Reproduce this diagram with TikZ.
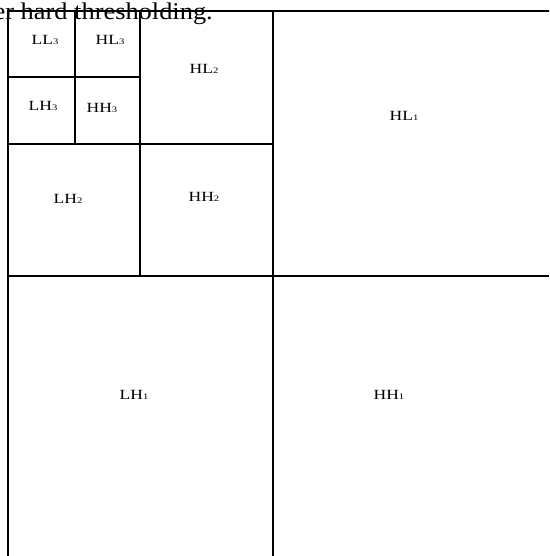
\documentclass[tikz,border=0pt]{standalone}
\usepackage{fontspec}
\setmainfont{Liberation Serif}
\newcommand\sbx[1]{\raisebox{-0.6pt}{\fontsize{8.5}{8.5}\selectfont #1}}
\newcommand\lbl[1]{\scalebox{1.25}[1]{#1}}
\tikzset{
  grid line/.style={line width=2.8pt, line cap=rect},
  lab/.style={font=\fontsize{14}{14}\selectfont, inner sep=0pt},
  caption/.style={font=\fontsize{24}{24}\selectfont, inner sep=0pt, anchor=base east}
}
\begin{document}
\begin{tikzpicture}[x=1pt,y=-1pt]
\useasboundingbox (0,0) rectangle (549,556);
\clip (0,0) rectangle (549,556);
\fill[white] (0,0) rectangle (549,556);
% caption
\node[caption] (cap) at (213,20) {\scalebox{1.1}[1]{er hard thresholding.}};
% grid
\coordinate (tl) at (8,11);
\coordinate (tr) at (549,11);
\coordinate (bl) at (8,556);
\draw[grid line] (tr) -- (tl) -- (bl);
\draw[grid line] (273,11) -- (273,556);
\draw[grid line] (8,276) -- (548,276);
\draw[grid line] (140,11) -- (140,276);
\draw[grid line] (8,144) -- (273,144);
\draw[grid line] (8,77) -- (140,77);
\draw[grid line] (75,11) -- (75,144);
% labels
\node[lab] (LL3) at (45,40) {\lbl{LL\sbx{3}}};
\node[lab] (HL3) at (110,40) {\lbl{HL\sbx{3}}};
\node[lab] (LH3) at (43,106) {\lbl{LH\sbx{3}}};
\node[lab] (HH3) at (102,108) {\lbl{HH\sbx{3}}};
\node[lab] (HL2) at (204,69) {\lbl{HL\sbx{2}}};
\node[lab] (LH2) at (68,199) {\lbl{LH\sbx{2}}};
\node[lab] (HH2) at (204,197) {\lbl{HH\sbx{2}}};
\node[lab] (HL1) at (404,116) {\lbl{HL\sbx{1}}};
\node[lab] (LH1) at (134,395) {\lbl{LH\sbx{1}}};
\node[lab] (HH1) at (389,395) {\lbl{HH\sbx{1}}};
\end{tikzpicture}
\end{document}
